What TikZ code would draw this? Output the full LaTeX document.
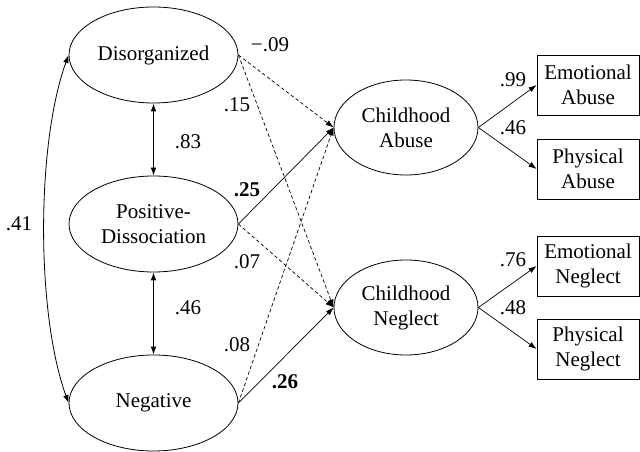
\documentclass[tikz,border=0pt]{standalone}
\usepackage{fontspec}
\setmainfont{Liberation Serif}
\usetikzlibrary{shapes.geometric,arrows.meta}
\begin{document}
\begin{tikzpicture}[x=1pt,y=1pt,
  every node/.style={font=\fontsize{21}{25}\selectfont},
  lat/.style={ellipse,draw,line width=0.8pt,inner sep=0pt,align=center},
  latl/.style={lat,minimum width=169pt,minimum height=96pt},
  latr/.style={lat,minimum width=144pt,minimum height=95pt},
  obs/.style={rectangle,draw,line width=0.8pt,minimum width=102pt,minimum height=60pt,inner sep=0pt,align=center},
  pth/.style={-{Latex[length=8pt,width=5.5pt]},line width=0.7pt},
  dpth/.style={pth,dash pattern=on 3.5pt off 2.5pt},
  cov/.style={{Latex[length=8pt,width=5.5pt]}-{Latex[length=8pt,width=5.5pt]},line width=0.8pt},
  lbl/.style={inner sep=0pt},
  blbl/.style={inner sep=0pt,font=\fontsize{21}{25}\selectfont\bfseries}
]
\useasboundingbox (0,0) rectangle (640,452);

% latent predictors
\node[latl] (dis) at (153.5,397) {Disorganized};
\node[latl] (pd)  at (153.5,228) {Positive-\\Dissociation};
\node[latl] (neg) at (153.5,49) {Negative};

% latent outcomes
\node[latr] (ca) at (406,324.5) {Childhood\\Abuse};
\node[latr] (cn) at (406,144.5) {Childhood\\Neglect};

% indicators
\node[obs] (ea) at (588,367) {Emotional\\Abuse};
\node[obs] (pa) at (588,283) {Physical\\Abuse};
\node[obs] (en) at (588,186) {Emotional\\Neglect};
\node[obs] (pn) at (588,103) {Physical\\Neglect};

% covariances
\draw[cov] (dis.south) -- (pd.north);
\draw[cov] (pd.south) -- (neg.north);
\draw[cov] (dis.west) to[out=250,in=110,looseness=0.7] (neg.west);

% structural paths
\draw[dpth] (dis.east) -- (ca.west);
\draw[dpth] (dis.east) -- (cn.west);
\draw[pth]  (pd.east) -- (ca.west);
\draw[dpth] (pd.east) -- (cn.west);
\draw[dpth] (neg.east) -- (ca.west);
\draw[pth]  (neg.east) -- (cn.west);

% measurement paths
\draw[pth] (ca.east) -- (ea.west);
\draw[pth] (ca.east) -- (pa.west);
\draw[pth] (cn.east) -- (en.west);
\draw[pth] (cn.east) -- (pn.west);

% labels
\node[lbl] (l1) at (270,407) {−.09};
\node[lbl] (l2) at (237,347) {.15};
\node[lbl] (l3) at (188,310) {.83};
\node[blbl] (l4) at (247,262) {.25};
\node[lbl] (l5) at (19,228) {.41};
\node[lbl] (l6) at (247,190) {.07};
\node[lbl] (l7) at (188,144) {.46};
\node[lbl] (l8) at (237,107) {.08};
\node[blbl] (l9) at (285,70) {.26};
\node[lbl] (l10) at (513,372) {.99};
\node[lbl] (l11) at (513,324) {.46};
\node[lbl] (l12) at (513,192) {.76};
\node[lbl] (l13) at (513,144) {.48};
\end{tikzpicture}
\end{document}
